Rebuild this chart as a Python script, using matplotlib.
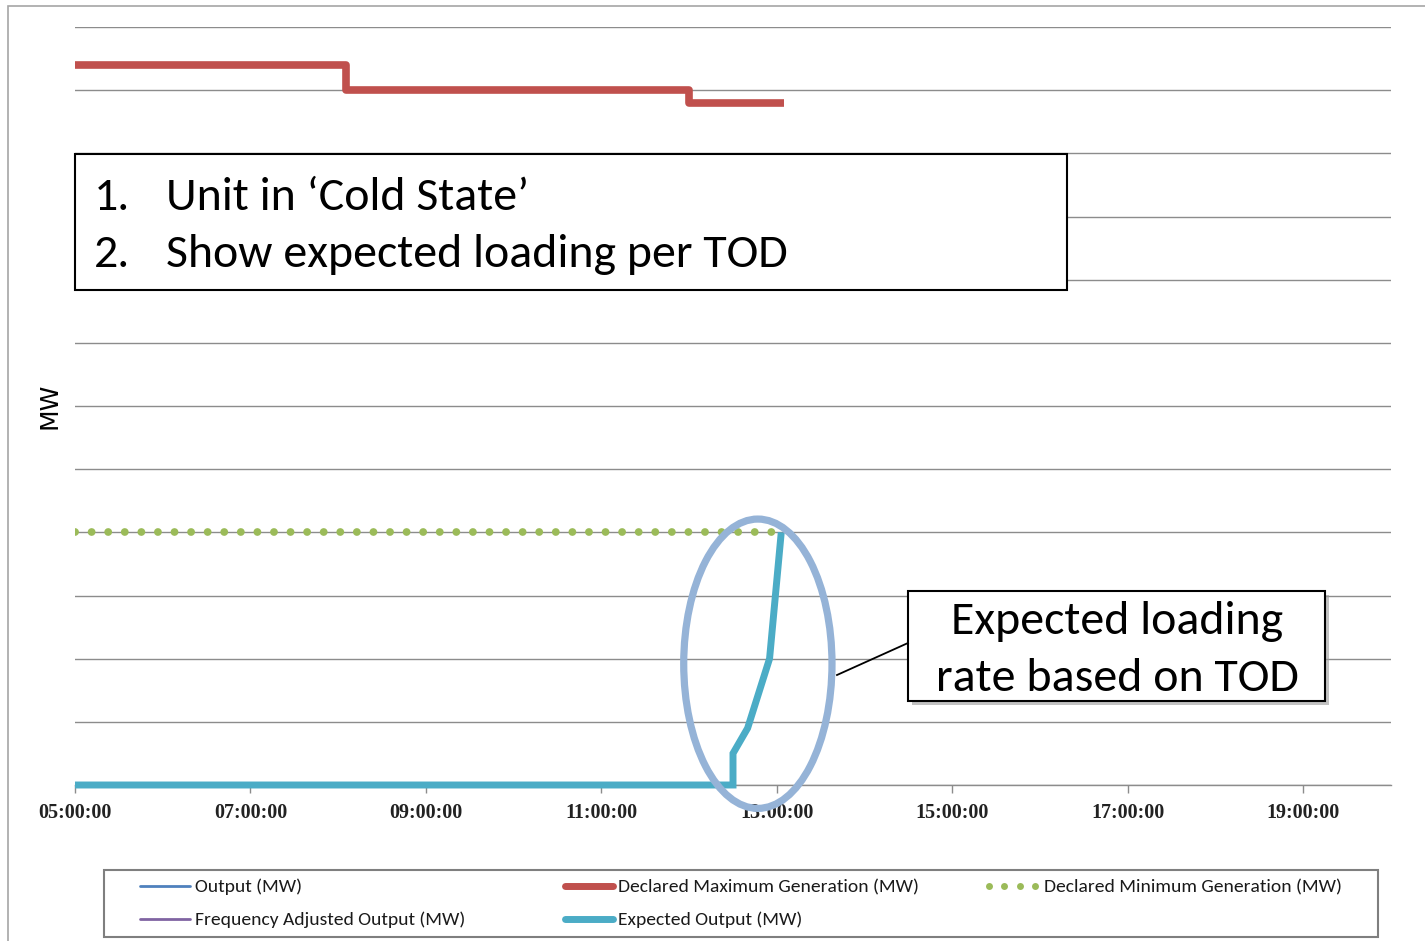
import datetime as dt
import matplotlib
matplotlib.use("Agg")
import matplotlib.pyplot as plt
import matplotlib.dates as mdates
from matplotlib.patches import Rectangle, Ellipse
from matplotlib.lines import Line2D

# ---- data -------------------------------------------------------------
day = "2012-01-01 "
max_gen_times = ["05:00", "08:05", "12:00", "13:05"]
max_gen_mw = [570, 550, 540, 540]

min_gen_times = ["05:00", "13:05"]
min_gen_mw = [200, 200]

expected_times = ["05:00", "12:30", "12:30", "12:40", "12:55", "13:03"]
expected_mw = [0, 0, 25, 45, 100, 200]

output_times = []
output_mw = []
freq_adj_times = []
freq_adj_mw = []

x_ticks = ["05:00", "07:00", "09:00", "11:00", "13:00", "15:00", "17:00", "19:00"]
x_start, x_end = "05:00", "20:00"
y_max, y_step = 600, 50

series_labels = ["Output (MW)", "Declared Maximum Generation (MW)",
                 "Declared Minimum Generation (MW)",
                 "Frequency Adjusted Output (MW)", "Expected Output (MW)"]

C_OUT = "#4F81BD"
C_MAX = "#C0504D"
C_MIN = "#9BBB59"
C_FREQ = "#8064A2"
C_EXP = "#4BACC6"
C_RING = "#95B3D7"


def t(s):
    return dt.datetime.strptime(day + s, "%Y-%m-%d %H:%M")


W, H = 1425, 941
fig = plt.figure(figsize=(W / 100, H / 100), dpi=100)


def fx(x):
    return x / W


def fy(y):
    return 1 - y / H


ax = fig.add_axes([fx(75), fy(785), fx(1391) - fx(75), fy(27) - fy(785)])

# gridlines / frame
ax.set_xlim(t(x_start), t(x_end))
ax.set_ylim(0, y_max)
ax.set_yticks(range(0, y_max + 1, y_step))
ax.yaxis.grid(True, color="#8C8C8C", linewidth=1.0)
ax.set_axisbelow(True)
for side in ("left", "right", "top"):
    ax.spines[side].set_visible(False)
ax.spines["bottom"].set_color("#8C8C8C")
ax.spines["bottom"].set_linewidth(1.0)
ax.tick_params(axis="y", left=False, labelleft=False)
ax.set_xticks([t(s) for s in x_ticks])
ax.set_xticklabels([s + ":00" for s in x_ticks],
                   fontfamily="Liberation Serif", fontweight="bold",
                   fontsize=14.5, color="#222222")
ax.tick_params(axis="x", length=6, width=1.0, color="#8C8C8C", pad=7)

# series
ax.plot([t(s) for s in output_times], output_mw, color=C_OUT, lw=2)
ax.plot([t(s) for s in freq_adj_times], freq_adj_mw, color=C_FREQ, lw=2)
ax.plot([t(s) for s in max_gen_times], max_gen_mw, color=C_MAX, lw=5.5,
        drawstyle="steps-post", solid_joinstyle="round",
        solid_capstyle="butt", zorder=3)
lw_dot = 5.6
ax.plot([t(s) for s in min_gen_times], min_gen_mw, color=C_MIN, lw=lw_dot,
        dashes=(0.01, 16.5 / (lw_dot * 100 / 72)), dash_capstyle="round",
        zorder=3)
ax.plot([t(s) for s in expected_times], expected_mw, color=C_EXP, lw=5,
        solid_joinstyle="miter", solid_capstyle="butt", clip_on=False,
        zorder=4)

ax.set_ylabel("MW", fontsize=18, labelpad=10, fontfamily="DejaVu Sans")

# highlighted region around the loading ramp
cx = mdates.date2num(t("12:47"))
ring = Ellipse((cx, 96), width=1.69 / 24, height=229, fill=False,
               edgecolor=C_RING, lw=5.2, zorder=6, clip_on=False)
ax.add_patch(ring)

# outer chart frame
fig.add_artist(Rectangle((fx(8), fy(1000)), 1.0, fy(6) - fy(1000),
                         transform=fig.transFigure, fill=False,
                         edgecolor="#A6A6A6", lw=1.2))

TXT_FONT = ["Carlito", "Lato", "DejaVu Sans"]
TXT_SIZE = 34.5

# note box 1
fig.add_artist(Rectangle((fx(75), fy(290)), fx(1067) - fx(75), fy(154) - fy(290),
                         transform=fig.transFigure, facecolor="white",
                         edgecolor="black", lw=1.5, zorder=10))
for i, (num, line) in enumerate([("1.", "Unit in \u2018Cold State\u2019"),
                                 ("2.", "Show expected loading per TOD")]):
    yb = [210, 267][i]
    fig.text(fx(94), fy(yb), num, fontsize=TXT_SIZE, family=TXT_FONT,
             va="baseline", ha="left", zorder=11)
    fig.text(fx(166), fy(yb), line, fontsize=TXT_SIZE, family=TXT_FONT,
             va="baseline", ha="left", zorder=11)

# note box 2 with shadow and leader line
fig.add_artist(Rectangle((fx(912), fy(705)), fx(1329) - fx(912), fy(595) - fy(705),
                         transform=fig.transFigure, facecolor="#9A9A9A",
                         edgecolor="none", zorder=9, alpha=0.6))
fig.add_artist(Rectangle((fx(908), fy(701)), fx(1325) - fx(908), fy(591) - fy(701),
                         transform=fig.transFigure, facecolor="white",
                         edgecolor="black", lw=1.5, zorder=10))
fig.text(fx(1117), fy(634), "Expected loading", fontsize=TXT_SIZE, family=TXT_FONT,
         va="baseline", ha="center", zorder=11)
fig.text(fx(1117), fy(691), "rate based on TOD", fontsize=TXT_SIZE, family=TXT_FONT,
         va="baseline", ha="center", zorder=11)
fig.add_artist(Line2D([fx(837), fx(908)], [fy(675), fy(643)],
                      transform=fig.transFigure, color="black", lw=1.3,
                      zorder=10))

# legend
fig.add_artist(Rectangle((fx(104), fy(937)), fx(1378) - fx(104), fy(870) - fy(937),
                         transform=fig.transFigure, fill=False,
                         edgecolor="#7F7F7F", lw=1.5))
LEG_FONT = ["Carlito", "Lato", "DejaVu Sans"]
legend_items = [
    (series_labels[0], C_OUT, 140, 190, 886, 2.0, "solid"),
    (series_labels[3], C_FREQ, 140, 190, 919, 2.0, "solid"),
    (series_labels[1], C_MAX, 565, 613, 886, 5.0, "solid"),
    (series_labels[4], C_EXP, 565, 613, 919, 5.0, "solid"),
    (series_labels[2], C_MIN, 989, 1034, 886, 4.0, "dots"),
]
for label, color, x0, x1, yy, lw, style in legend_items:
    if style == "dots":
        for k in range(4):
            xd = x0 + k * 15.3
            fig.add_artist(Line2D([fx(xd)], [fy(yy)], marker="o", markersize=5,
                                  color=color, markeredgewidth=0,
                                  transform=fig.transFigure))
        tx = 1044
    else:
        fig.add_artist(Line2D([fx(x0), fx(x1)], [fy(yy), fy(yy)],
                              transform=fig.transFigure, color=color, lw=lw,
                              solid_capstyle="round"))
        tx = x1 + 5
    fig.text(fx(tx), fy(yy + 1), label, fontsize=14, family=LEG_FONT,
             va="center", ha="left", color="#1A1A1A")

fig.savefig("out.png", dpi=100, facecolor="white")
